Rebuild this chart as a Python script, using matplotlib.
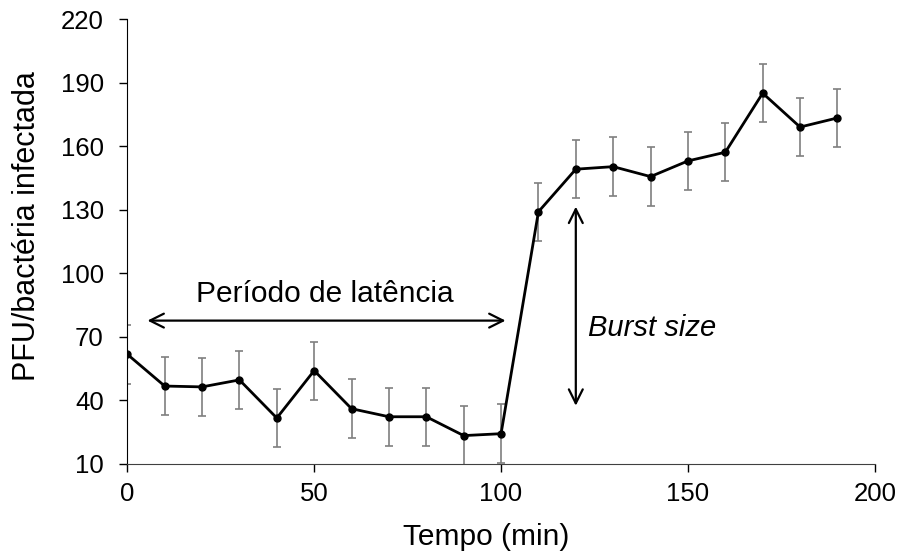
import matplotlib
matplotlib.use("Agg")
import matplotlib.pyplot as plt

plt.rcParams["font.family"] = ["Liberation Sans", "DejaVu Sans"]

# tempo (min) e PFU por bactéria infectada
tempo = [0, 10, 20, 30, 40, 50, 60, 70, 80, 90, 100,
         110, 120, 130, 140, 150, 160, 170, 180, 190]
pfu = [61.8, 46.8, 46.4, 49.7, 31.7, 54.1, 36.1, 32.3, 32.3, 23.4, 24.3,
       129.1, 149.2, 150.4, 145.7, 153.1, 157.2, 185.1, 169.1, 173.4]
erro = [14.0, 13.8, 13.8, 13.7, 13.8, 13.7, 13.8, 13.8, 13.8, 13.8, 13.8,
        13.6, 13.8, 13.8, 13.8, 13.8, 13.8, 13.6, 13.8, 13.8]

x_ticks = [0, 50, 100, 150, 200]
y_ticks = [10, 40, 70, 100, 130, 160, 190, 220]

fig = plt.figure(figsize=(8.99, 5.58), dpi=100)
ax = fig.add_axes([0.1416, 0.1685, 0.8315, 0.797])

ax.errorbar(tempo, pfu, yerr=erro, fmt="none", ecolor="#7f7f7f",
            elinewidth=1.2, capsize=3, capthick=1.2, zorder=2)
ax.plot(tempo, pfu, color="black", linewidth=2, marker="o",
        markersize=5, zorder=3)

# período de latência
ax.annotate("", xy=(101.2, 77.7), xytext=(5.4, 77.7),
            arrowprops=dict(arrowstyle="<->", color="black", lw=1.6,
                            mutation_scale=25, shrinkA=0, shrinkB=0))
ax.text(52.8, 86.6, "Período de latência", ha="center", va="baseline",
        fontsize=21.5)

# burst size
ax.annotate("", xy=(120, 131.5), xytext=(120, 37.5),
            arrowprops=dict(arrowstyle="<->", color="black", lw=1.6,
                            mutation_scale=25, shrinkA=0, shrinkB=0))
ax.text(123.2, 70.4, "Burst size", ha="left", va="baseline",
        fontsize=21, style="italic")

ax.set_xlim(0, 200)
ax.set_ylim(10, 220)
ax.set_xticks(x_ticks)
ax.set_yticks(y_ticks)
ax.tick_params(labelsize=18.5, direction="out", length=6, width=1,
               color="black")
ax.tick_params(axis="x", pad=7)
ax.tick_params(axis="y", pad=11)
ax.set_xlabel("Tempo (min)", fontsize=21.5)
ax.set_ylabel("PFU/bactéria infectada", fontsize=22)
ax.xaxis.set_label_coords(0.48, -0.132)
ax.yaxis.set_label_coords(-0.114, 0.535)

for side in ("top", "right"):
    ax.spines[side].set_visible(False)
ax.spines["left"].set_color("black")
ax.spines["bottom"].set_color("#404040")

fig.savefig("out.png", dpi=100)
